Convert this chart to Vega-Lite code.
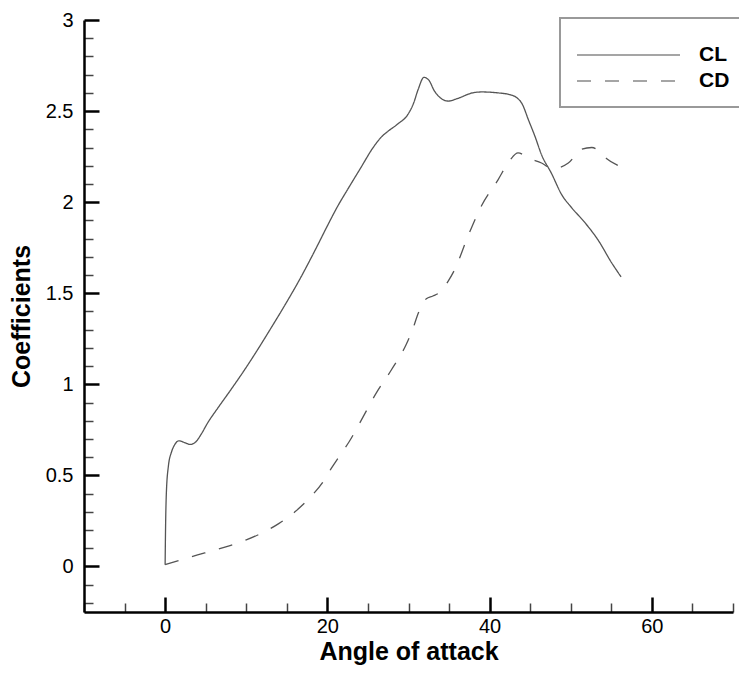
{
  "$schema": "https://vega.github.io/schema/vega-lite/v6.json",
  "width": 649,
  "height": 592,
  "autosize": {"type": "none"},
  "padding": {"left": 84, "top": 20, "right": 6, "bottom": 63},
  "background": "white",
  "config": {
    "view": {"stroke": null},
    "font": "Liberation Sans",
    "axis": {
      "labelFont": "Liberation Sans",
      "titleFont": "Liberation Sans",
      "labelColor": "black",
      "titleColor": "black",
      "domainColor": "black",
      "domainWidth": 2.5,
      "grid": false,
      "labelFontSize": 20,
      "titleFontSize": 25,
      "titleFontWeight": "bold"
    }
  },
  "data": {
    "values": [
      {"a": 0, "c": 0.01, "s": "CL"},
      {"a": 0.05, "c": 0.2, "s": "CL"},
      {"a": 0.15, "c": 0.4, "s": "CL"},
      {"a": 0.4, "c": 0.55, "s": "CL"},
      {"a": 0.8, "c": 0.63, "s": "CL"},
      {"a": 1.2, "c": 0.67, "s": "CL"},
      {"a": 1.7, "c": 0.69, "s": "CL"},
      {"a": 2.4, "c": 0.68, "s": "CL"},
      {"a": 3.1, "c": 0.67, "s": "CL"},
      {"a": 3.8, "c": 0.685, "s": "CL"},
      {"a": 4.5, "c": 0.73, "s": "CL"},
      {"a": 5.2, "c": 0.785, "s": "CL"},
      {"a": 6.5, "c": 0.87, "s": "CL"},
      {"a": 8.1, "c": 0.97, "s": "CL"},
      {"a": 9.8, "c": 1.08, "s": "CL"},
      {"a": 11.4, "c": 1.19, "s": "CL"},
      {"a": 13, "c": 1.305, "s": "CL"},
      {"a": 14.7, "c": 1.43, "s": "CL"},
      {"a": 16.7, "c": 1.585, "s": "CL"},
      {"a": 18.7, "c": 1.755, "s": "CL"},
      {"a": 20, "c": 1.87, "s": "CL"},
      {"a": 21.3, "c": 1.98, "s": "CL"},
      {"a": 22.5, "c": 2.07, "s": "CL"},
      {"a": 24, "c": 2.18, "s": "CL"},
      {"a": 25.8, "c": 2.31, "s": "CL"},
      {"a": 26.6, "c": 2.355, "s": "CL"},
      {"a": 27.5, "c": 2.39, "s": "CL"},
      {"a": 28.7, "c": 2.43, "s": "CL"},
      {"a": 29.9, "c": 2.48, "s": "CL"},
      {"a": 30.6, "c": 2.54, "s": "CL"},
      {"a": 31.2, "c": 2.62, "s": "CL"},
      {"a": 31.9, "c": 2.685, "s": "CL"},
      {"a": 32.5, "c": 2.67, "s": "CL"},
      {"a": 33.2, "c": 2.61, "s": "CL"},
      {"a": 34, "c": 2.57, "s": "CL"},
      {"a": 34.9, "c": 2.555, "s": "CL"},
      {"a": 36.1, "c": 2.57, "s": "CL"},
      {"a": 37.9, "c": 2.6, "s": "CL"},
      {"a": 39, "c": 2.605, "s": "CL"},
      {"a": 41, "c": 2.6, "s": "CL"},
      {"a": 42.5, "c": 2.59, "s": "CL"},
      {"a": 43.3, "c": 2.575, "s": "CL"},
      {"a": 44, "c": 2.54, "s": "CL"},
      {"a": 44.8, "c": 2.45, "s": "CL"},
      {"a": 45.6, "c": 2.36, "s": "CL"},
      {"a": 46.4, "c": 2.26, "s": "CL"},
      {"a": 47.6, "c": 2.16, "s": "CL"},
      {"a": 48.9, "c": 2.04, "s": "CL"},
      {"a": 50.1, "c": 1.97, "s": "CL"},
      {"a": 51.7, "c": 1.89, "s": "CL"},
      {"a": 53.4, "c": 1.79, "s": "CL"},
      {"a": 55, "c": 1.67, "s": "CL"},
      {"a": 56.2, "c": 1.59, "s": "CL"},
      {"a": 0, "c": 0.01, "s": "CD"},
      {"a": 2, "c": 0.037, "s": "CD"},
      {"a": 4, "c": 0.063, "s": "CD"},
      {"a": 6, "c": 0.088, "s": "CD"},
      {"a": 8, "c": 0.115, "s": "CD"},
      {"a": 10, "c": 0.146, "s": "CD"},
      {"a": 12, "c": 0.185, "s": "CD"},
      {"a": 14, "c": 0.235, "s": "CD"},
      {"a": 16, "c": 0.3, "s": "CD"},
      {"a": 18, "c": 0.385, "s": "CD"},
      {"a": 19.4, "c": 0.46, "s": "CD"},
      {"a": 20.5, "c": 0.54, "s": "CD"},
      {"a": 21.7, "c": 0.62, "s": "CD"},
      {"a": 22.7, "c": 0.686, "s": "CD"},
      {"a": 24.2, "c": 0.805, "s": "CD"},
      {"a": 26, "c": 0.95, "s": "CD"},
      {"a": 27.9, "c": 1.08, "s": "CD"},
      {"a": 29.7, "c": 1.217, "s": "CD"},
      {"a": 30.5, "c": 1.3, "s": "CD"},
      {"a": 31.2, "c": 1.39, "s": "CD"},
      {"a": 31.6, "c": 1.43, "s": "CD"},
      {"a": 32.2, "c": 1.47, "s": "CD"},
      {"a": 33, "c": 1.485, "s": "CD"},
      {"a": 34, "c": 1.51, "s": "CD"},
      {"a": 34.8, "c": 1.56, "s": "CD"},
      {"a": 35.7, "c": 1.63, "s": "CD"},
      {"a": 37.3, "c": 1.81, "s": "CD"},
      {"a": 39, "c": 1.98, "s": "CD"},
      {"a": 41, "c": 2.12, "s": "CD"},
      {"a": 42.5, "c": 2.23, "s": "CD"},
      {"a": 43.5, "c": 2.27, "s": "CD"},
      {"a": 44.9, "c": 2.24, "s": "CD"},
      {"a": 46.4, "c": 2.215, "s": "CD"},
      {"a": 47.5, "c": 2.19, "s": "CD"},
      {"a": 48.4, "c": 2.19, "s": "CD"},
      {"a": 49.7, "c": 2.215, "s": "CD"},
      {"a": 51.3, "c": 2.29, "s": "CD"},
      {"a": 52.6, "c": 2.3, "s": "CD"},
      {"a": 53.5, "c": 2.28, "s": "CD"},
      {"a": 54.4, "c": 2.24, "s": "CD"},
      {"a": 55.9, "c": 2.2, "s": "CD"}
    ]
  },
  "mark": {"type": "line", "interpolate": "monotone", "color": "#555", "strokeWidth": 1.3},
  "encoding": {
    "x": {
      "field": "a",
      "type": "quantitative",
      "scale": {"domain": [-10, 70], "nice": false, "zero": false},
      "axis": {
        "title": "Angle of attack",
        "orient": "bottom",
        "values": [-10, -5, 0, 5, 10, 15, 20, 25, 30, 35, 40, 45, 50, 55, 60, 65, 70],
        "labelExpr": "datum.value % 20 === 0 ? '' + datum.value : ''",
        "tickSize": {"condition": {"test": "datum.value % 20 === 0", "value": -15}, "value": -9},
        "tickWidth": {"condition": {"test": "datum.value % 20 === 0", "value": 2.5}, "value": 1.5},
        "tickColor": {"condition": {"test": "datum.value % 20 === 0", "value": "black"}, "value": "#444"},
        "labelPadding": 19,
        "labelFlush": false,
        "labelOverlap": false,
        "titlePadding": -3
      }
    },
    "y": {
      "field": "c",
      "type": "quantitative",
      "scale": {"domain": [-0.25, 3], "nice": false, "zero": false},
      "axis": {
        "title": "Coefficients",
        "orient": "left",
        "values": [-0.2, -0.1, 0, 0.1, 0.2, 0.3, 0.4, 0.5, 0.6, 0.7, 0.8, 0.9, 1, 1.1, 1.2, 1.3, 1.4, 1.5, 1.6, 1.7, 1.8, 1.9, 2, 2.1, 2.2, 2.3, 2.4, 2.5, 2.6, 2.7, 2.8, 2.9, 3],
        "labelExpr": "abs(datum.value*2 - round(datum.value*2)) < 0.001 ? '' + datum.value : ''",
        "tickSize": {"condition": {"test": "abs(datum.value*2 - round(datum.value*2)) < 0.001", "value": -15}, "value": -9},
        "tickWidth": {"condition": {"test": "abs(datum.value*2 - round(datum.value*2)) < 0.001", "value": 2.5}, "value": 1.5},
        "tickColor": {"condition": {"test": "abs(datum.value*2 - round(datum.value*2)) < 0.001", "value": "black"}, "value": "#444"},
        "labelPadding": 26,
        "labelFlush": false,
        "labelOverlap": false,
        "titlePadding": 11
      }
    },
    "strokeDash": {
      "field": "s",
      "type": "nominal",
      "scale": {"domain": ["CL", "CD"], "range": [[1, 0], [14, 14]]},
      "legend": {
        "orient": "none",
        "legendX": 476,
        "legendY": -2,
        "title": " ",
        "titleFontSize": 10,
        "titlePadding": 0,
        "padding": 16,
        "strokeColor": "#999",
        "fillColor": "white",
        "symbolType": "M-1,0H9.3",
        "symbolSize": 400,
        "symbolStrokeWidth": 1.5,
        "symbolStrokeColor": "#888",
        "labelOffset": 101,
        "labelFont": "Liberation Sans",
        "labelFontSize": 21,
        "labelFontWeight": "bold",
        "labelColor": "black",
        "rowPadding": 5,
        "encode": {"legend": {"update": {"strokeWidth": {"value": 2}}}}
      }
    }
  }
}
